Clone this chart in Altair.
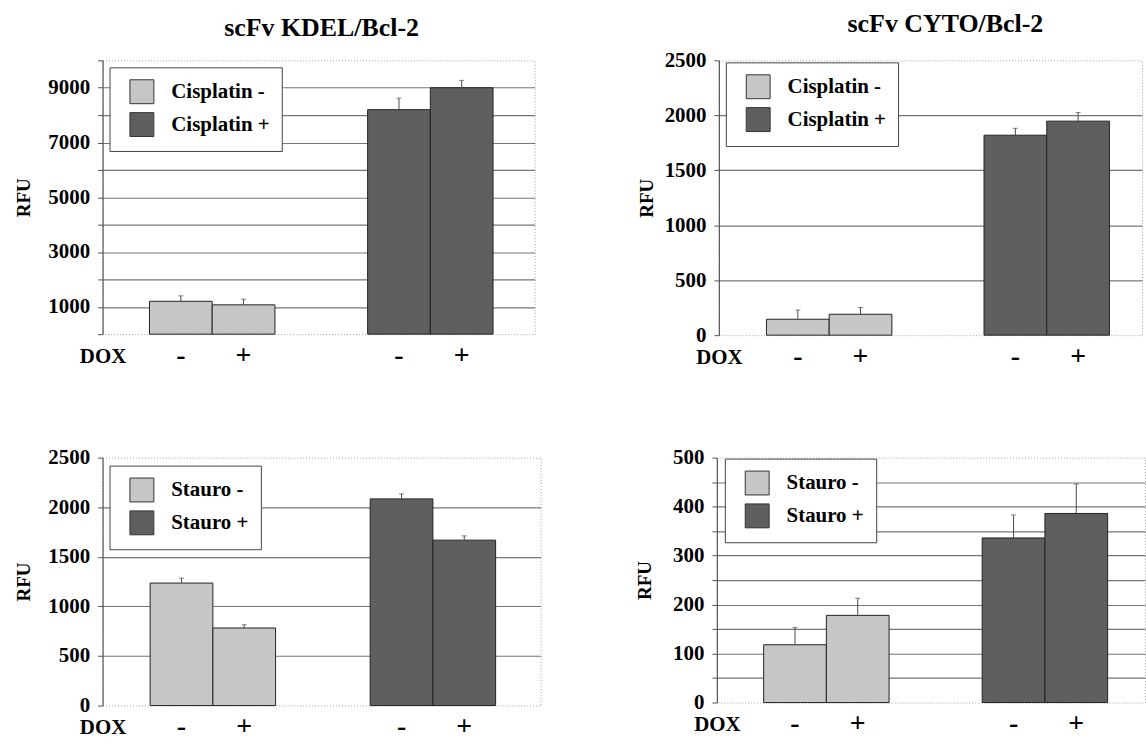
import altair as alt
import pandas as pd

FONT = "Liberation Serif"
LIGHT = "#c6c6c6"
DARK = "#5f5f5f"

dox_levels = ["-", "+"]

# scFv KDEL/Bcl-2 with cisplatin
kdel_cis_groups = ["Cisplatin -", "Cisplatin +"]
kdel_cis_minus = [1200, 1070]
kdel_cis_minus_err = [200, 210]
kdel_cis_plus = [8200, 9000]
kdel_cis_plus_err = [420, 270]

# scFv CYTO/Bcl-2 with cisplatin
cyto_cis_groups = ["Cisplatin -", "Cisplatin +"]
cyto_cis_minus = [145, 190]
cyto_cis_minus_err = [83, 62]
cyto_cis_plus = [1819, 1947]
cyto_cis_plus_err = [63, 78]

# scFv KDEL/Bcl-2 with staurosporine
kdel_st_groups = ["Stauro -", "Stauro +"]
kdel_st_minus = [1235, 782]
kdel_st_minus_err = [50, 33]
kdel_st_plus = [2084, 1668]
kdel_st_plus_err = [50, 43]

# scFv CYTO/Bcl-2 with staurosporine
cyto_st_groups = ["Stauro -", "Stauro +"]
cyto_st_minus = [118, 178]
cyto_st_minus_err = [35, 35]
cyto_st_plus = [336, 386]
cyto_st_plus_err = [47, 60]


def frame(groups, minus, minus_err, plus, plus_err):
    rows = []
    for g, vals, errs in [(groups[0], minus, minus_err), (groups[1], plus, plus_err)]:
        for d, v, e in zip(dox_levels, vals, errs):
            rows.append({"group": g, "dox": d, "value": v, "upper": v + e})
    return pd.DataFrame(rows)


def panel(df, groups, ymax, step, label_expr, w, h, xpad, legend_xy,
          title_pad, sign_dy, title=None, title_offset=0, title_dx=0):
    xscale = alt.Scale(domain=groups, paddingInner=xpad[0],
                       paddingOuter=xpad[1], align=xpad[2])
    x = alt.X("group:N", scale=xscale,
              axis=alt.Axis(title="DOX", labels=False, ticks=False, domain=False,
                            grid=False, titleX=0, titleY=sign_dy,
                            titleAlign="center", titleBaseline="middle",
                            titleFont=FONT, titleFontSize=21,
                            titleFontWeight="bold", titleColor="black"))
    xo = alt.XOffset("dox:N", sort=dox_levels,
                     scale=alt.Scale(domain=dox_levels, paddingInner=0, paddingOuter=0))
    vals = list(range(0, ymax + 1, step))
    yaxis = alt.Axis(
        values=vals, format="d", labelExpr=label_expr, title="RFU",
        grid=True, gridColor="#767676", gridWidth=1.2,
        gridOpacity={"condition": {"test": f"datum.value == 0 || datum.value == {ymax}",
                                   "value": 0}, "value": 1},
        domainColor="#555555", domainWidth=1.2,
        tickColor="#555555", tickSize=5, tickWidth=1,
        labelFont=FONT, labelFontSize=21, labelFontWeight="bold",
        labelColor="black", labelPadding=8,
        titleFont=FONT, titleFontSize=19, titleFontWeight="bold",
        titleColor="black", titlePadding=title_pad)
    yscale = alt.Scale(domain=[0, ymax], nice=False, zero=True)

    color = alt.Color(
        "group:N",
        scale=alt.Scale(domain=groups, range=[LIGHT, DARK]),
        legend=alt.Legend(
            title=None, orient="none", legendX=legend_xy[0], legendY=legend_xy[1],
            direction="vertical", symbolType="square", symbolSize=576,
            symbolStrokeColor="#333333", symbolStrokeWidth=1, symbolOpacity=1,
            labelFont=FONT, labelFontSize=21, labelFontWeight="bold",
            labelColor="black", labelLimit=400,
            padding=12, rowPadding=4, symbolOffset=8, labelOffset=17,
            strokeColor="#444444", fillColor="white", cornerRadius=0))

    bars = alt.Chart(df).mark_bar(stroke="#222222", strokeWidth=1, opacity=1).encode(
        x=x, xOffset=xo,
        y=alt.Y("value:Q", scale=yscale, axis=yaxis),
        color=color)
    err = alt.Chart(df).mark_rule(color="#4a4a4a", strokeWidth=1).encode(
        x=x, xOffset=xo,
        y=alt.Y("value:Q", scale=yscale, axis=yaxis),
        y2="upper:Q")
    caps = alt.Chart(df).mark_tick(color="#4a4a4a", thickness=1, size=5).encode(
        x=x, xOffset=xo,
        y=alt.Y("upper:Q", scale=yscale, axis=yaxis))
    signs = alt.Chart(df).mark_text(font=FONT, fontSize=28, fontWeight="bold",
                                    baseline="middle", align="center",
                                    color="black").encode(
        x=x, xOffset=xo, y=alt.value(h + sign_dy), text="dox:N")

    layer = alt.layer(bars, err, caps, signs).properties(width=w, height=h)
    if title is not None:
        layer = layer.properties(title=alt.TitleParams(
            text=title, font=FONT, fontSize=26, fontWeight="bold", color="black",
            anchor="middle", frame="group", offset=title_offset, dx=title_dx,
            baseline="alphabetic"))
    return layer


p1 = panel(frame(kdel_cis_groups, kdel_cis_minus, kdel_cis_minus_err,
                 kdel_cis_plus, kdel_cis_plus_err),
           kdel_cis_groups, 10000, 1000, "datum.value % 2000 == 1000 ? datum.label : ''",
           434, 275, (0.425, 0.203, 0.53), (7, 7), 14, 22,
           title="scFv KDEL/Bcl-2", title_offset=-2, title_dx=3)

p2 = panel(frame(cyto_cis_groups, cyto_cis_minus, cyto_cis_minus_err,
                 cyto_cis_plus, cyto_cis_plus_err),
           cyto_cis_groups, 2500, 500, "datum.label",
           425, 276, (0.429, 0.187, 0.585), (7, 2), 8, 22,
           title="scFv CYTO/Bcl-2", title_offset=-9, title_dx=15)

p3 = panel(frame(kdel_st_groups, kdel_st_minus, kdel_st_minus_err,
                 kdel_st_plus, kdel_st_plus_err),
           kdel_st_groups, 2500, 500, "datum.label",
           440, 249, (0.425, 0.208, 0.52), (7, 8), 14, 22)

p4 = panel(frame(cyto_st_groups, cyto_st_minus, cyto_st_minus_err,
                 cyto_st_plus, cyto_st_plus_err),
           cyto_st_groups, 500, 50, "datum.value % 100 == 0 ? datum.label : ''",
           430, 246, (0.426, 0.1925, 0.556), (8, 1), 18, 22)

row1 = alt.hconcat(p1, p2, spacing=101).resolve_scale(color="independent")
row2 = alt.hconcat(p3, p4, spacing=94).resolve_scale(color="independent")

chart = alt.vconcat(row1, row2, spacing=74).properties(
    padding={"left": 14, "top": 9, "right": 0, "bottom": 1},
    background="white",
).configure_view(
    stroke="#a0a0a0", strokeDash=[1, 2], strokeWidth=1
).resolve_scale(color="independent")

chart.save("out.html", embed_options={"renderer": "svg", "actions": False})
